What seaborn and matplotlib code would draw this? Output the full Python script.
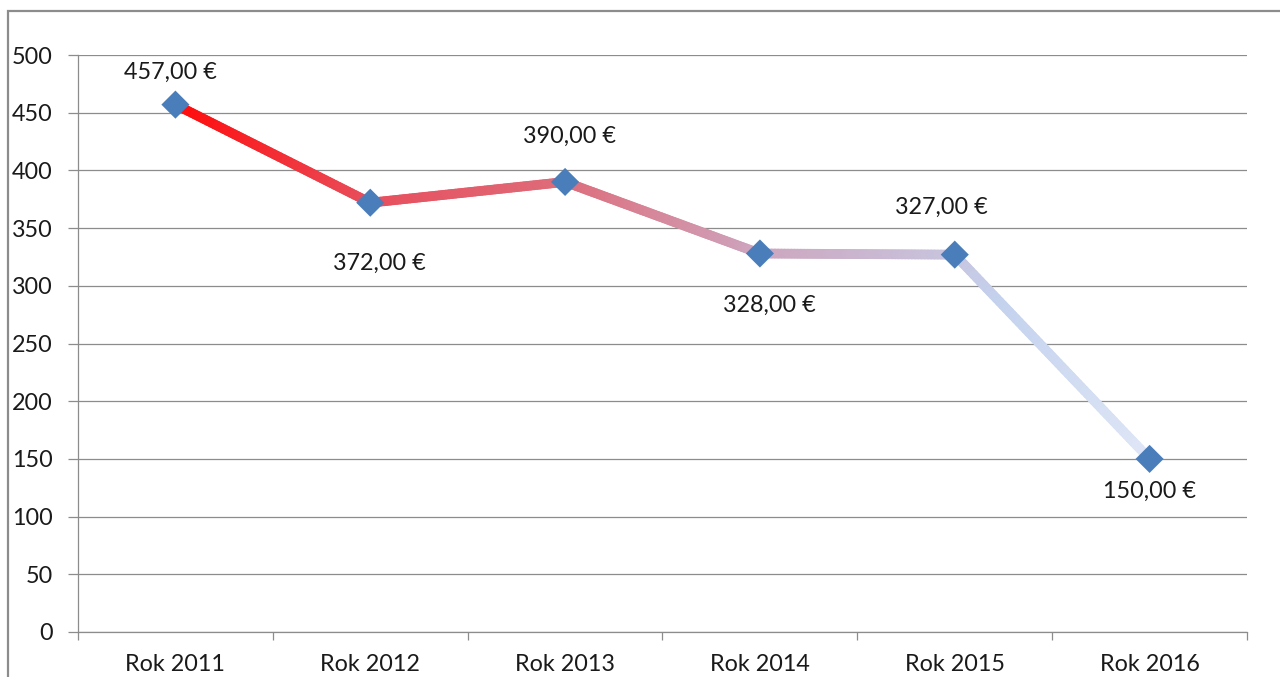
import numpy as np
import matplotlib
matplotlib.use("Agg")
import matplotlib.pyplot as plt
import seaborn as sns
import pandas as pd
from matplotlib.collections import LineCollection
from matplotlib.colors import LinearSegmentedColormap
from matplotlib.patches import Rectangle
from matplotlib.ticker import FixedLocator

categories = ["Rok 2011", "Rok 2012", "Rok 2013", "Rok 2014", "Rok 2015", "Rok 2016"]
values = [457, 372, 390, 328, 327, 150]
label_texts = ["457,00 €", "372,00 €", "390,00 €", "328,00 €", "327,00 €", "150,00 €"]
y_ticks = [0, 50, 100, 150, 200, 250, 300, 350, 400, 450, 500]

# label offsets in pixels (dx, dy) - styling
label_offsets = [(-5, 32), (9, -61), (4, 46), (9, -52), (-13, 47), (0, -32)]

sns.set_theme(style="white")
plt.rcParams['font.family'] = ['Lato', 'DejaVu Sans']

DPI = 100
fig = plt.figure(figsize=(12.8, 6.77), dpi=DPI)
W, H = 1280, 677
ax = fig.add_axes([78 / W, (H - 632) / H, (1247 - 78) / W, (632 - 55) / H])

df = pd.DataFrame({"x": np.arange(len(categories)), "y": values})

grid_c = "#8c8c8c"
for v in y_ticks:
    ax.axhline(v, color=grid_c, lw=0.9, zorder=0)

# gradient line
xs = np.linspace(0, len(values) - 1, 300)
ys = np.interp(xs, df["x"], df["y"])
pts = np.column_stack([xs, ys]).reshape(-1, 1, 2)
segs = np.concatenate([pts[:-1], pts[1:]], axis=1)
stops = [
    (0.0, (255 / 255, 10 / 255, 10 / 255)),
    (0.2, (232 / 255, 78 / 255, 92 / 255)),
    (0.4, (222 / 255, 108 / 255, 122 / 255)),
    (0.6, (205 / 255, 165 / 255, 190 / 255)),
    (0.8, (200 / 255, 196 / 255, 222 / 255)),
    (0.85, (196 / 255, 210 / 255, 238 / 255)),
    (1.0, (222 / 255, 230 / 255, 246 / 255)),
]
cmap = LinearSegmentedColormap.from_list("grad", stops)
lc = LineCollection(segs, colors=cmap((xs[:-1] + xs[1:]) / 2 / (len(values) - 1)),
                    linewidths=7.0, capstyle="round", joinstyle="round", zorder=2)
ax.add_collection(lc)

sns.scatterplot(data=df, x="x", y="y", marker="D", s=205, color="#4a7ebb",
                edgecolor="none", linewidth=0, ax=ax, zorder=3)

FS = 16.8
for i, (t, (dx, dy)) in enumerate(zip(label_texts, label_offsets)):
    ax.annotate(t, (i, values[i]), xytext=(dx * 72 / DPI, dy * 72 / DPI),
                textcoords="offset points", ha="center", va="center",
                fontsize=FS, color="#1a1a1a", zorder=4)

ax.set_xlim(-0.5, len(categories) - 0.5)
ax.set_ylim(0, 500)
ax.set_yticks(y_ticks)
ax.set_yticklabels([str(v) for v in y_ticks])
ax.set_xticks(range(len(categories)))
ax.set_xticklabels(categories)
ax.xaxis.set_minor_locator(FixedLocator(np.arange(-0.5, len(categories), 1.0)))
ax.tick_params(axis="x", which="major", length=0, pad=16, labelsize=FS, labelcolor="#1a1a1a")
ax.tick_params(axis="x", which="minor", length=6, width=0.9, color=grid_c, bottom=True)
ax.tick_params(axis="y", which="major", length=7, width=0.9, color=grid_c, left=True,
               pad=11, labelsize=FS, labelcolor="#1a1a1a")
ax.set_xlabel("")
ax.set_ylabel("")
for s in ["top", "right"]:
    ax.spines[s].set_visible(False)
for s in ["left", "bottom"]:
    ax.spines[s].set_color(grid_c)
    ax.spines[s].set_linewidth(0.9)

# outer chart border (cropped at right and bottom)
fig.patches.append(Rectangle((8 / W, -0.1), 1.2, (H - 10.5) / H + 0.1,
                             transform=fig.transFigure, fill=False,
                             edgecolor="#8c8c8c", linewidth=1.6, zorder=0))

fig.savefig("out.png", dpi=DPI)
